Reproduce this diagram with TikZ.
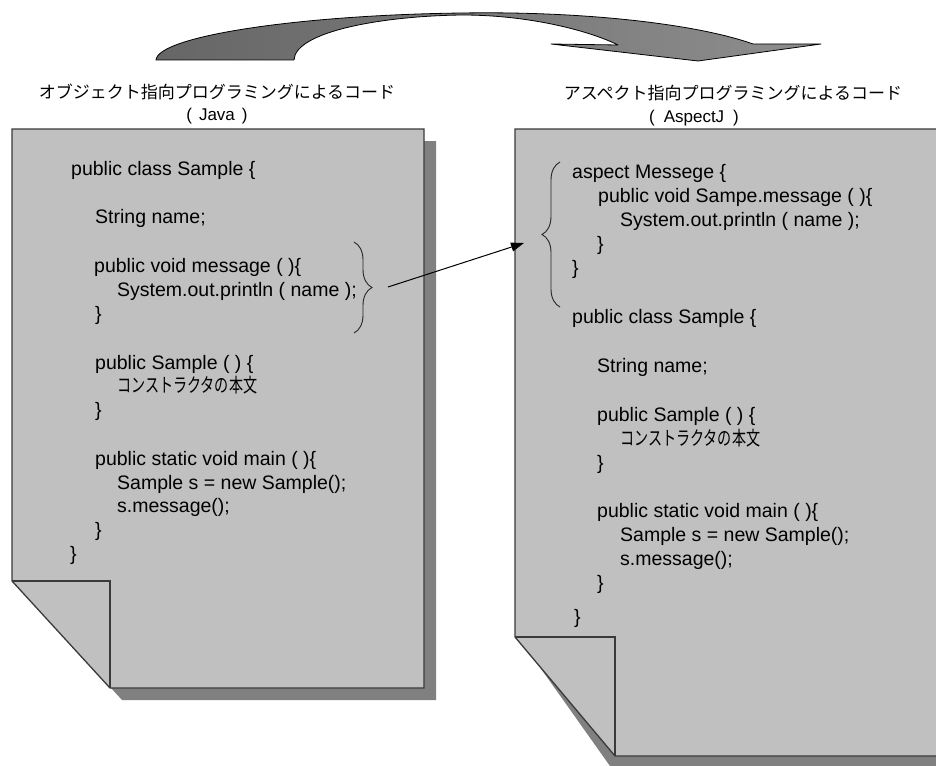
\documentclass[tikz,border=0pt]{standalone}
\usepackage{fontspec}
\usepackage{graphicx}
\setmainfont{Liberation Sans}
\newfontfamily\jpfont{Noto Sans CJK JP}
\usetikzlibrary{arrows.meta,decorations.pathreplacing}
\definecolor{pagegray}{HTML}{C0C0C0}
\definecolor{shadowgray}{HTML}{808080}
\definecolor{edgegray}{HTML}{3A3A3A}
\definecolor{arrowdark}{HTML}{666666}
\definecolor{arrowlight}{HTML}{8E8E8E}
\newcommand\codesize{\fontsize{19.5}{24}\selectfont}
\newcommand\titlesize{\fontsize{17}{20}\selectfont}
\newcommand\jpwide[2]{\resizebox{#1}{\height}{\jpfont #2}}

\begin{document}
\begin{tikzpicture}[x=1pt,y=-1pt,
  code/.style={anchor=base west, inner sep=0pt, font=\codesize},
  heading/.style={anchor=base, inner sep=0pt, font=\titlesize},
  sheet/.style={fill=pagegray, draw=edgegray, line width=1.3pt, line join=miter},
  foldline/.style={draw=edgegray, line width=1.3pt},
  dropshade/.style={fill=shadowgray},
  codebrace/.style={draw=black!85, line width=0.9pt, decorate,
    decoration={brace, amplitude=18pt}},
  link/.style={line width=1pt, -{Triangle[length=13pt,width=9pt]}},
]
\useasboundingbox (0,0) rectangle (936,765);
\clip (0,0) rectangle (936,765);

% curved ribbon arrow across the top
\draw[left color=arrowdark, right color=arrowlight, draw=black, line width=0.8pt, line join=round]
  (156,60) .. controls (158,36) and (300,15) .. (462,13)
  .. controls (590,11) and (700,25) .. (753,44)
  -- (821,44) -- (698,61) -- (551,44) -- (618,45)
  .. controls (590,31) and (530,15) .. (462,15)
  .. controls (380,16) and (295,32) .. (294,60) -- cycle;

% left sheet: shadow, page, folded corner
\fill[dropshade] (24,141) -- (436,141) -- (436,700) -- (122,700) -- (24,593) -- cycle;
\path[sheet] (12,129) -- (424,129) -- (424,688) -- (110,688) -- (12,581) -- cycle;
\draw[foldline] (12,581) -- (110,581) -- (110,688);

% right sheet: shadow, page, folded corner
\fill[dropshade] (527,141) -- (980,141) -- (980,790) -- (627,790) -- (527,649) -- cycle;
\path[sheet] (515,129) -- (960,129) -- (960,756) -- (615,756) -- (515,637) -- cycle;
\draw[foldline] (515,637) -- (615,637) -- (615,756);

% headings
\node[heading] (ltitle) at (217,99) {\jpfont オブジェクト指向プログラミングによるコード};
\node[heading] (lsub) at (217,121) {(\hspace{7pt}Java\hspace{7pt})};
\node[heading] (rtitle) at (733,100) {\jpfont アスペクト指向プログラミングによるコード};
\node[heading] (rsub) at (694,123) {(\hspace{9pt}AspectJ\hspace{9pt})};

% Java source
\node[code] (l1)  at (71,175)  {public class Sample \{};
\node[code] (l2)  at (95,223)  {String name;};
\node[code] (l3)  at (94,272)  {public void message ( )\{};
\node[code] (l4)  at (117,296) {System.out.println ( name );};
\node[code] (l5)  at (95,320)  {\}};
\node[code] (l6)  at (95,369)  {public Sample ( ) \{};
\node[code] (l7)  at (117,392) {\jpwide{140pt}{コンストラクタの本文}};
\node[code] (l8)  at (95,416)  {\}};
\node[code] (l9)  at (95,465)  {public static void main ( )\{};
\node[code] (l10) at (117,489) {Sample s = new Sample();};
\node[code] (l11) at (117,512) {s.message();};
\node[code] (l12) at (95,536)  {\}};
\node[code] (l13) at (70,560)  {\}};

% AspectJ source
\node[code] (r1)  at (572,178) {aspect Messege \{};
\node[code] (r2)  at (598,202) {public void Sampe.message ( )\{};
\node[code] (r3)  at (620,226) {System.out.println ( name );};
\node[code] (r4)  at (597,250) {\}};
\node[code] (r5)  at (572,274) {\}};
\node[code] (r6)  at (572,323) {public class Sample \{};
\node[code] (r7)  at (597,372) {String name;};
\node[code] (r8)  at (597,421) {public Sample ( ) \{};
\node[code] (r9)  at (620,445) {\jpwide{140pt}{コンストラクタの本文}};
\node[code] (r10) at (597,469) {\}};
\node[code] (r11) at (597,517) {public static void main ( )\{};
\node[code] (r12) at (620,541) {Sample s = new Sample();};
\node[code] (r13) at (620,565) {s.message();};
\node[code] (r14) at (597,589) {\}};
\node[code] (r15) at (574,623) {\}};

% braces marking the moved method and the aspect
\draw[codebrace] (354,242) -- (354,333);
\draw[codebrace] (560,307) -- (560,162);

% link from the method to the aspect
\coordinate (jtip) at (388,287);
\coordinate (atip) at (524,243);
\draw[link] (jtip) -- (atip);
\end{tikzpicture}
\end{document}
